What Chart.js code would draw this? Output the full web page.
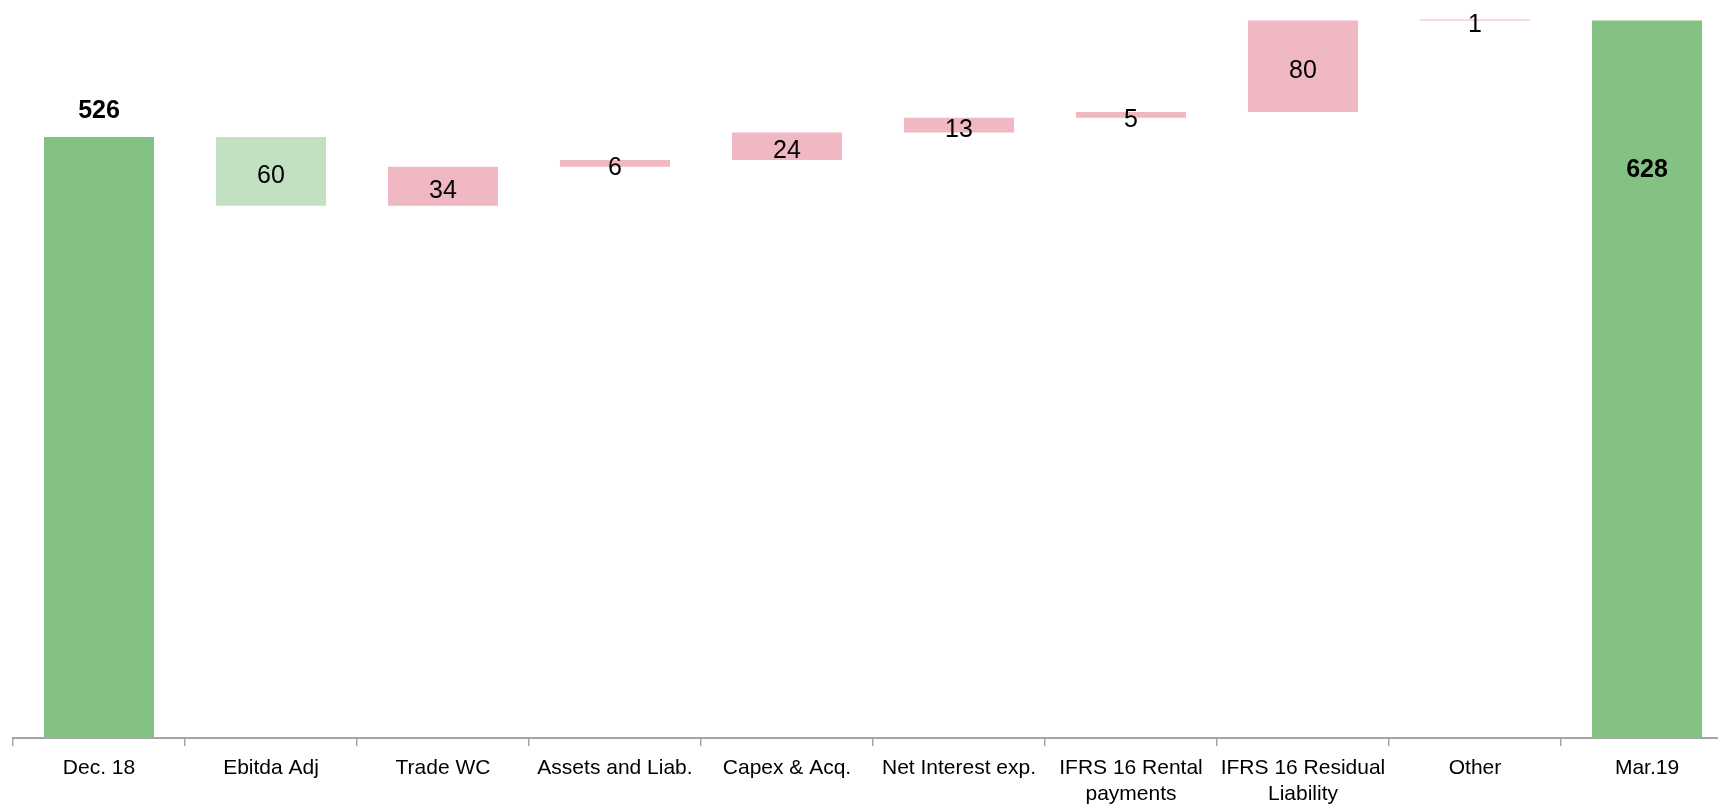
<!DOCTYPE html>
<html>
<head>
<meta charset="utf-8">
<title>Net debt bridge</title>
<script src="https://cdn.jsdelivr.net/npm/chart.js@4.4.1/dist/chart.umd.min.js"></script>
<style>
    html, body { margin: 0; padding: 0; background: #fff; overflow: hidden; }
    #wrap { width: 1733px; height: 805px; }
</style>
</head>
<body>
<div id="wrap"><canvas id="bridgeChart" width="1733" height="805"></canvas></div>
<script>
// Bridge data
const categories = [
    'Dec. 18', 'Ebitda Adj', 'Trade WC', 'Assets and Liab.', 'Capex & Acq.',
    'Net Interest exp.', ['IFRS 16 Rental', 'payments'], ['IFRS 16 Residual', 'Liability'],
    'Other', 'Mar.19'
];
const openingValue = 526;
const closingValue = 628;
const movements = [-60, 34, 6, 24, 13, 5, 80, 1];

const totalColor = '#84C284';
const decreaseColor = '#C2E1C2';
const increaseColor = '#F0B8C2';

// Build floating bars from the movements
const ranges = [[0, openingValue]];
const barLabels = [String(openingValue)];
const colors = [totalColor];
let running = openingValue;
movements.forEach(function(m) {
    const next = running + m;
    ranges.push([Math.min(running, next), Math.max(running, next)]);
    barLabels.push(String(Math.abs(m)));
    colors.push(m < 0 ? decreaseColor : increaseColor);
    running = next;
});
ranges.push([0, closingValue]);
barLabels.push(String(closingValue));
colors.push(totalColor);

const lastIndex = ranges.length - 1;
const fontFamily = '"Liberation Sans", Arial, sans-serif';

// Simple label plugin (no datalabels plugin available)
const barLabelPlugin = {
    id: 'barLabels',
    afterDatasetsDraw: function(chart) {
        const ctx = chart.ctx;
        const meta = chart.getDatasetMeta(0);
        ctx.save();
        ctx.fillStyle = '#000';
        ctx.textAlign = 'center';
        meta.data.forEach(function(bar, i) {
            const top = Math.min(bar.y, bar.base);
            const bottom = Math.max(bar.y, bar.base);
            if (i === 0) {
                ctx.font = 'bold 25px ' + fontFamily;
                ctx.textBaseline = 'alphabetic';
                ctx.fillText(barLabels[i], bar.x, top - 19);
            } else if (i === lastIndex) {
                ctx.font = 'bold 25px ' + fontFamily;
                ctx.textBaseline = 'middle';
                ctx.fillText(barLabels[i], bar.x, top + 150);
            } else {
                ctx.font = '25px ' + fontFamily;
                ctx.textBaseline = 'middle';
                ctx.fillText(barLabels[i], bar.x, (top + bottom) / 2 + 5);
            }
        });
        ctx.restore();
    }
};

new Chart(document.getElementById('bridgeChart'), {
    type: 'bar',
    data: {
        labels: categories,
        datasets: [{
            data: ranges,
            backgroundColor: colors,
            borderWidth: 0,
            borderSkipped: false,
            categoryPercentage: 1,
            barPercentage: 0.64
        }]
    },
    options: {
        responsive: false,
        animation: false,
        layout: {
            padding: { left: 13, right: 0, top: 0, bottom: 0 }
        },
        plugins: {
            legend: { display: false },
            tooltip: { enabled: false }
        },
        scales: {
            y: {
                display: false,
                min: 0,
                max: 646
            },
            x: {
                afterFit: function(scale) {
                    scale.height = 67;
                },
                border: {
                    display: true,
                    color: '#A6A6A6',
                    width: 2
                },
                grid: {
                    offset: true,
                    drawOnChartArea: false,
                    drawTicks: true,
                    tickLength: 8,
                    color: '#A6A6A6',
                    lineWidth: 1.5
                },
                ticks: {
                    color: '#000',
                    padding: 10,
                    maxRotation: 0,
                    autoSkip: false,
                    font: {
                        family: fontFamily,
                        size: 21,
                        lineHeight: 1.2
                    }
                }
            }
        }
    },
    plugins: [barLabelPlugin]
});
</script>
</body>
</html>
